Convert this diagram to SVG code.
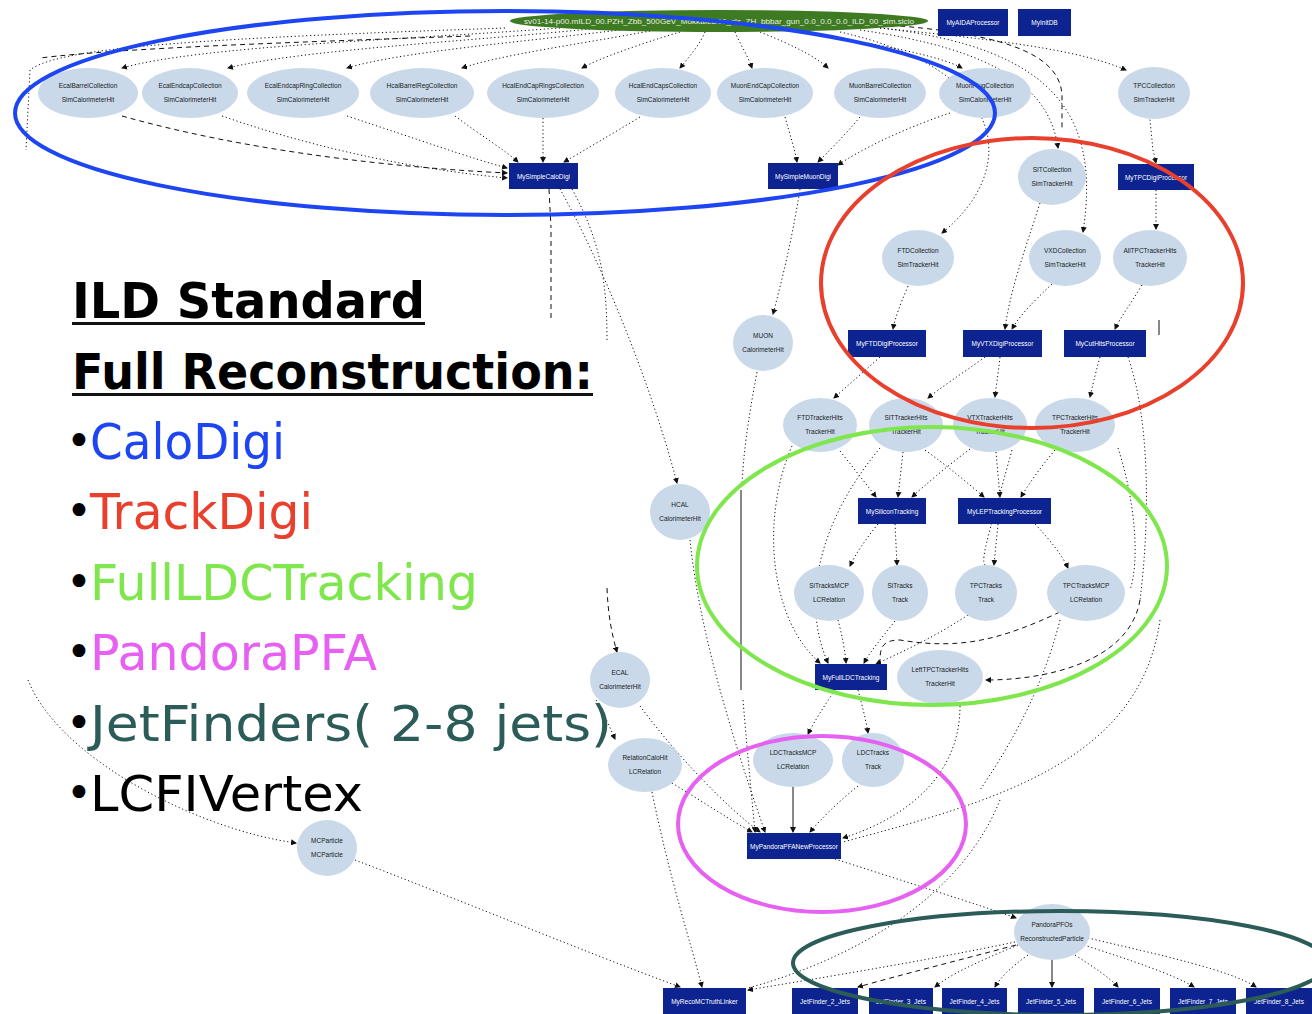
<svg xmlns="http://www.w3.org/2000/svg" width="1312" height="1014" viewBox="0 0 1312 1014">
  <style>
    .col ellipse { fill: #c9d9ea; }
    .col text { font-family: "Liberation Sans", Arial, sans-serif; font-size: 6.5px; fill: #1a1a1a; text-anchor: middle; }
    .proc rect { fill: #0c2390; }
    .proc text { font-family: "Liberation Sans", Arial, sans-serif; font-size: 6.5px; fill: #ffffff; text-anchor: middle; }
    .edges path { fill: none; stroke: #111; stroke-width: 1; stroke-dasharray: 1.2 2.6; }
    .edges path.dash { stroke-dasharray: 5 4; }
    .edges path.solid { stroke-dasharray: none; }
    .ring { fill: none; stroke-width: 4; }
    .big { font-family: "DejaVu Sans", "Liberation Sans", sans-serif; font-size: 50px; }
    .dot { font-family: "DejaVu Sans", "Liberation Sans", sans-serif; font-size: 44px; text-anchor: middle; fill: #000; }
  </style>
  <defs>
    <marker id="ah" markerWidth="6" markerHeight="6" refX="5" refY="3" orient="auto" markerUnits="userSpaceOnUse">
      <path d="M0,0 L6,3 L0,6 z" fill="#111"/>
    </marker>
  </defs>
  <rect width="1312" height="1014" fill="#ffffff"/>

  <!-- connectors -->
  <g class="edges" id="edges">
    <!-- LCIO reader to the simulated hit collections -->
    <path d="M560 28 C400 40 200 46 122 68" marker-end="url(#ah)"/>
    <path d="M590 29 C460 42 300 50 228 68" marker-end="url(#ah)"/>
    <path d="M620 30 C520 42 400 52 347 68" marker-end="url(#ah)"/>
    <path d="M650 31 C580 44 500 55 462 68" marker-end="url(#ah)"/>
    <path d="M680 32 C640 44 600 58 582 68" marker-end="url(#ah)"/>
    <path d="M705 32 C700 44 690 56 680 68" marker-end="url(#ah)"/>
    <path d="M735 32 C740 44 748 56 752 68" marker-end="url(#ah)"/>
    <path d="M760 32 C790 44 815 56 828 68" marker-end="url(#ah)"/>
    <path d="M800 32 C880 44 940 56 962 68" marker-end="url(#ah)"/>
    <path d="M880 28 C1000 40 1080 50 1126 70" marker-end="url(#ah)"/>
    <path d="M860 30 C1000 50 1050 90 1058 148" marker-end="url(#ah)"/>
    <path d="M840 32 C1010 70 1020 170 942 233" marker-end="url(#ah)"/>
    <path d="M880 28 C1060 48 1100 120 1083 232" marker-end="url(#ah)"/>
    <path class="dash" d="M900 26 C1020 36 1060 60 1062 95 L1062 128"/>
    <path d="M505 28 C220 38 60 46 30 70 L26 150"/>
    <path class="dash" d="M470 36 C300 42 120 48 40 58"/>
    <!-- calorimeter hits into the digitisers -->
    <path class="dash" d="M122 116 C250 152 400 168 507 173" marker-end="url(#ah)"/>
    <path d="M222 116 C320 150 420 170 507 178" marker-end="url(#ah)"/>
    <path d="M347 116 C420 140 470 158 507 168" marker-end="url(#ah)"/>
    <path d="M455 116 C480 135 505 150 518 162" marker-end="url(#ah)"/>
    <path d="M543 118 L543 162" marker-end="url(#ah)"/>
    <path d="M640 117 C610 135 585 150 564 162" marker-end="url(#ah)"/>
    <path d="M785 117 C790 135 795 150 797 162" marker-end="url(#ah)"/>
    <path d="M860 117 C845 135 830 150 818 162" marker-end="url(#ah)"/>
    <path d="M950 113 C900 130 860 150 838 165" marker-end="url(#ah)"/>
    <!-- calo digitiser outputs -->
    <path class="dash" d="M549 189 L551 228"/>
    <path class="dash" d="M551 232 L551 320"/>
    <path d="M560 189 C600 260 650 380 677 483" marker-end="url(#ah)"/>
    <path d="M572 189 C600 240 607 280 607 340"/>
    <path class="dash" d="M607 588 C608 615 612 635 617 652" marker-end="url(#ah)"/>
    <path d="M596 700 C605 715 610 728 615 739" marker-end="url(#ah)"/>
    <path d="M800 189 C792 240 782 280 773 314" marker-end="url(#ah)"/>
    <path d="M757 372 C748 420 743 455 742 488"/>
    <path class="solid" d="M741 490 L741 690"/>
    <path d="M743 700 C748 760 752 800 755 832" marker-end="url(#ah)"/>
    <!-- tracker digitisation -->
    <path d="M1156 190 L1156 229" marker-end="url(#ah)"/>
    <path d="M1139 104 L1150 120 L1153 150 L1156 163" marker-end="url(#ah)"/>
    <path d="M908 286 C900 305 895 318 893 329" marker-end="url(#ah)"/>
    <path d="M1040 203 C1025 250 1010 290 1005 329" marker-end="url(#ah)"/>
    <path d="M1052 284 C1035 300 1020 315 1012 329" marker-end="url(#ah)"/>
    <path d="M1142 285 C1130 305 1120 318 1115 329" marker-end="url(#ah)"/>
    <path class="solid" d="M1159 320 L1159 335"/>
    <path d="M1128 357 C1150 420 1150 520 1140 600"/>
    <path d="M880 357 C860 375 845 388 834 398" marker-end="url(#ah)"/>
    <path d="M985 357 C960 375 940 388 928 398" marker-end="url(#ah)"/>
    <path d="M1000 357 C998 375 996 388 995 397" marker-end="url(#ah)"/>
    <path d="M1100 357 C1095 375 1092 388 1090 397" marker-end="url(#ah)"/>
    <!-- hits into the pattern recognition -->
    <path d="M840 451 C855 470 867 485 876 497" marker-end="url(#ah)"/>
    <path d="M903 452 L898 497" marker-end="url(#ah)"/>
    <path d="M970 449 C945 468 925 485 912 497" marker-end="url(#ah)"/>
    <path d="M925 450 C950 468 970 485 984 497" marker-end="url(#ah)"/>
    <path d="M996 452 L1000 497" marker-end="url(#ah)"/>
    <path d="M1055 450 C1040 468 1028 485 1021 497" marker-end="url(#ah)"/>
    <path d="M792 446 C760 520 770 620 820 663" marker-end="url(#ah)"/>
    <path d="M880 448 C820 520 800 600 828 663" marker-end="url(#ah)"/>
    <path d="M1012 450 C990 530 980 560 985 565"/>
    <path d="M1118 448 C1135 500 1140 560 1130 590"/>
    <!-- track fitting -->
    <path d="M878 524 C865 540 855 555 850 566" marker-end="url(#ah)"/>
    <path d="M895 524 L897 565" marker-end="url(#ah)"/>
    <path d="M998 524 L994 565" marker-end="url(#ah)"/>
    <path d="M1035 524 C1050 540 1062 555 1068 568" marker-end="url(#ah)"/>
    <path d="M838 620 C842 635 845 650 846 663" marker-end="url(#ah)"/>
    <path d="M895 621 C880 640 870 652 864 663" marker-end="url(#ah)"/>
    <path d="M968 615 C930 640 895 655 876 664" marker-end="url(#ah)"/>
    <path class="dash" d="M1060 612 C1000 640 960 650 900 640 C880 640 880 650 880 664"/>
    <path class="dash" d="M1140 600 C1130 660 1050 680 986 680" marker-end="url(#ah)"/>
    <path d="M1060 620 C1040 700 1000 760 980 790"/>
    <!-- full tracking outputs and particle flow inputs -->
    <path d="M835 690 C825 705 815 720 808 734" marker-end="url(#ah)"/>
    <path d="M858 690 C862 705 866 720 868 733" marker-end="url(#ah)"/>
    <path class="solid" d="M793 787 L793 832" marker-end="url(#ah)"/>
    <path d="M858 786 C840 800 820 820 810 832" marker-end="url(#ah)"/>
    <path d="M690 540 C700 640 740 760 765 832" marker-end="url(#ah)"/>
    <path d="M640 706 C680 760 730 810 760 832" marker-end="url(#ah)"/>
    <path d="M672 783 C700 800 730 820 752 832" marker-end="url(#ah)"/>
    <path d="M960 706 C960 780 900 820 843 838" marker-end="url(#ah)"/>
    <path d="M1160 620 C1140 760 1000 800 843 842"/>
    <!-- MC truth and particle flow objects -->
    <path d="M28 680 C60 760 200 830 296 843" marker-end="url(#ah)"/>
    <path d="M355 860 C460 900 580 950 680 987" marker-end="url(#ah)"/>
    <path d="M652 792 C670 880 690 940 702 987" marker-end="url(#ah)"/>
    <path d="M835 859 C900 880 980 905 1016 918" marker-end="url(#ah)"/>
    <path d="M1015 942 C930 960 820 978 748 990" marker-end="url(#ah)"/>
    <path d="M1000 800 C960 900 850 960 748 988"/>
    <path class="dash" d="M1016 945 C960 960 900 975 858 987" marker-end="url(#ah)"/>
    <path d="M1018 945 C970 965 950 975 935 987" marker-end="url(#ah)"/>
    <path d="M1028 955 C1010 968 1000 978 995 987" marker-end="url(#ah)"/>
    <path class="solid" d="M1052 960 L1052 987" marker-end="url(#ah)"/>
    <path d="M1075 955 C1095 968 1110 978 1118 987" marker-end="url(#ah)"/>
    <path d="M1084 945 C1130 960 1175 975 1194 987" marker-end="url(#ah)"/>
    <path d="M1088 938 C1160 955 1230 970 1256 987" marker-end="url(#ah)"/>
  </g>

  <!-- event input -->
  <g id="lcio" class="col">
    <ellipse cx="719" cy="21" rx="209" ry="11" style="fill:#3d7a22"/>
    <text x="719" y="23.5" style="fill:#e8eee0" textLength="390" lengthAdjust="spacingAndGlyphs">sv01-14-p00.mILD_00.PZH_Zbb_500GeV_MokkaILD00_cls_ZH_bbbar_gun_0.0_0.0_0.0_ILD_00_sim.slcio</text>
  </g>
  <g id="aida" class="proc"><rect x="938" y="9" width="70" height="27"/><text x="973" y="25">MyAIDAProcessor</text></g>
  <g id="initdb" class="proc"><rect x="1018" y="9" width="53" height="27"/><text x="1044.5" y="25">MyInitDB</text></g>

  <!-- simulated hit collections -->
  <g id="ecalbarrel" class="col"><ellipse cx="88" cy="93" rx="50" ry="25"/><text x="88" y="88">EcalBarrelCollection</text><text x="88" y="102">SimCalorimeterHit</text></g>
  <g id="ecalendcap" class="col"><ellipse cx="190" cy="93" rx="48" ry="25"/><text x="190" y="88">EcalEndcapCollection</text><text x="190" y="102">SimCalorimeterHit</text></g>
  <g id="ecalring" class="col"><ellipse cx="303" cy="93" rx="56" ry="25"/><text x="303" y="88">EcalEndcapRingCollection</text><text x="303" y="102">SimCalorimeterHit</text></g>
  <g id="hcalbarrel" class="col"><ellipse cx="422" cy="93" rx="52" ry="25"/><text x="422" y="88">HcalBarrelRegCollection</text><text x="422" y="102">SimCalorimeterHit</text></g>
  <g id="hcalring" class="col"><ellipse cx="543" cy="93" rx="56" ry="25"/><text x="543" y="88">HcalEndCapRingsCollection</text><text x="543" y="102">SimCalorimeterHit</text></g>
  <g id="hcalendcap" class="col"><ellipse cx="663" cy="93" rx="48" ry="25"/><text x="663" y="88">HcalEndCapsCollection</text><text x="663" y="102">SimCalorimeterHit</text></g>
  <g id="muonendcap" class="col"><ellipse cx="765" cy="93" rx="48" ry="25"/><text x="765" y="88">MuonEndCapCollection</text><text x="765" y="102">SimCalorimeterHit</text></g>
  <g id="muonbarrel" class="col"><ellipse cx="880" cy="93" rx="46" ry="25"/><text x="880" y="88">MuonBarrelCollection</text><text x="880" y="102">SimCalorimeterHit</text></g>
  <g id="muonplug" class="col"><ellipse cx="985" cy="93" rx="46" ry="25"/><text x="985" y="88">MuonPlugCollection</text><text x="985" y="102">SimCalorimeterHit</text></g>
  <g id="tpccol" class="col"><ellipse cx="1154" cy="93" rx="36" ry="26"/><text x="1154" y="88">TPCCollection</text><text x="1154" y="102">SimTrackerHit</text></g>

  <!-- digitisers -->
  <g id="calodigi" class="proc"><rect x="509" y="163" width="69" height="26"/><text x="543.5" y="178.5">MySimpleCaloDigi</text></g>
  <g id="muondigi" class="proc"><rect x="768" y="163" width="70" height="26"/><text x="803" y="178.5">MySimpleMuonDigi</text></g>
  <g id="sitcol" class="col"><ellipse cx="1052" cy="177" rx="34" ry="28"/><text x="1052" y="172">SITCollection</text><text x="1052" y="186">SimTrackerHit</text></g>
  <g id="tpcdigi" class="proc"><rect x="1118" y="164" width="76" height="26"/><text x="1156" y="179.5">MyTPCDigiProcessor</text></g>
  <g id="ftdcol" class="col"><ellipse cx="918" cy="258" rx="36" ry="28"/><text x="918" y="253">FTDCollection</text><text x="918" y="267">SimTrackerHit</text></g>
  <g id="vxdcol" class="col"><ellipse cx="1065" cy="258" rx="36" ry="28"/><text x="1065" y="253">VXDCollection</text><text x="1065" y="267">SimTrackerHit</text></g>
  <g id="alltpc" class="col"><ellipse cx="1150" cy="258" rx="37" ry="28"/><text x="1150" y="253">AllTPCTrackerHits</text><text x="1150" y="267">TrackerHit</text></g>
  <g id="muon" class="col"><ellipse cx="763" cy="343" rx="30" ry="28"/><text x="763" y="338">MUON</text><text x="763" y="352">CalorimeterHit</text></g>
  <g id="ftddigi" class="proc"><rect x="848" y="330" width="78" height="27"/><text x="887" y="346">MyFTDDigiProcessor</text></g>
  <g id="vtxdigi" class="proc"><rect x="963" y="330" width="79" height="27"/><text x="1002.5" y="346">MyVTXDigiProcessor</text></g>
  <g id="cuthits" class="proc"><rect x="1064" y="330" width="82" height="27"/><text x="1105" y="346">MyCutHitsProcessor</text></g>

  <!-- tracker hits -->
  <g id="ftdhits" class="col"><ellipse cx="820" cy="425" rx="37" ry="27"/><text x="820" y="420">FTDTrackerHits</text><text x="820" y="434">TrackerHit</text></g>
  <g id="sithits" class="col"><ellipse cx="906" cy="425" rx="37" ry="27"/><text x="906" y="420">SITTrackerHits</text><text x="906" y="434">TrackerHit</text></g>
  <g id="vtxhits" class="col"><ellipse cx="990" cy="425" rx="37" ry="27"/><text x="990" y="420">VTXTrackerHits</text><text x="990" y="434">TrackerHit</text></g>
  <g id="tpchits" class="col"><ellipse cx="1075" cy="425" rx="40" ry="27"/><text x="1075" y="420">TPCTrackerHits</text><text x="1075" y="434">TrackerHit</text></g>
  <g id="hcal" class="col"><ellipse cx="680" cy="512" rx="30" ry="28"/><text x="680" y="507">HCAL</text><text x="680" y="521">CalorimeterHit</text></g>

  <!-- tracking -->
  <g id="sitracking" class="proc"><rect x="858" y="498" width="68" height="26"/><text x="892" y="513.5">MySiliconTracking</text></g>
  <g id="leptracking" class="proc"><rect x="958" y="498" width="93" height="26"/><text x="1004.5" y="513.5">MyLEPTrackingProcessor</text></g>
  <g id="sitracksmcp" class="col"><ellipse cx="829" cy="593" rx="35" ry="28"/><text x="829" y="588">SiTracksMCP</text><text x="829" y="602">LCRelation</text></g>
  <g id="sitracks" class="col"><ellipse cx="900" cy="593" rx="28" ry="28"/><text x="900" y="588">SiTracks</text><text x="900" y="602">Track</text></g>
  <g id="tpctracks" class="col"><ellipse cx="986" cy="593" rx="31" ry="28"/><text x="986" y="588">TPCTracks</text><text x="986" y="602">Track</text></g>
  <g id="tpctracksmcp" class="col"><ellipse cx="1086" cy="593" rx="39" ry="28"/><text x="1086" y="588">TPCTracksMCP</text><text x="1086" y="602">LCRelation</text></g>
  <g id="fullldc" class="proc"><rect x="815" y="664" width="72" height="26"/><text x="851" y="679.5">MyFullLDCTracking</text></g>
  <g id="lefttpc" class="col"><ellipse cx="940" cy="677" rx="43" ry="27"/><text x="940" y="672">LeftTPCTrackerHits</text><text x="940" y="686">TrackerHit</text></g>

  <!-- particle flow -->
  <g id="ecal" class="col"><ellipse cx="620" cy="680" rx="30" ry="28"/><text x="620" y="675">ECAL</text><text x="620" y="689">CalorimeterHit</text></g>
  <g id="relcalo" class="col"><ellipse cx="645" cy="765" rx="37" ry="27"/><text x="645" y="760">RelationCaloHit</text><text x="645" y="774">LCRelation</text></g>
  <g id="ldctracksmcp" class="col"><ellipse cx="793" cy="760" rx="40" ry="27"/><text x="793" y="755">LDCTracksMCP</text><text x="793" y="769">LCRelation</text></g>
  <g id="ldctracks" class="col"><ellipse cx="873" cy="760" rx="31" ry="27"/><text x="873" y="755">LDCTracks</text><text x="873" y="769">Track</text></g>
  <g id="pandora" class="proc"><rect x="747" y="833" width="94" height="26"/><text x="794" y="848.5">MyPandoraPFANewProcessor</text></g>
  <g id="mcparticle" class="col"><ellipse cx="327" cy="848" rx="30" ry="28"/><text x="327" y="843">MCParticle</text><text x="327" y="857">MCParticle</text></g>
  <g id="pfos" class="col"><ellipse cx="1052" cy="932" rx="38" ry="28"/><text x="1052" y="927">PandoraPFOs</text><text x="1052" y="941">ReconstructedParticle</text></g>

  <!-- truth linking and jet finding -->
  <g id="truthlinker" class="proc"><rect x="663" y="988" width="83" height="26"/><text x="704.5" y="1003.5">MyRecoMCTruthLinker</text></g>
  <g id="jets2" class="proc"><rect x="792" y="988" width="66" height="26"/><text x="825" y="1003.5">JetFinder_2_Jets</text></g>
  <g id="jets3" class="proc"><rect x="869" y="988" width="64" height="26"/><text x="901" y="1003.5">JetFinder_3_Jets</text></g>
  <g id="jets4" class="proc"><rect x="942" y="988" width="65" height="26"/><text x="974.5" y="1003.5">JetFinder_4_Jets</text></g>
  <g id="jets5" class="proc"><rect x="1018" y="988" width="66" height="26"/><text x="1051" y="1003.5">JetFinder_5_Jets</text></g>
  <g id="jets6" class="proc"><rect x="1094" y="988" width="66" height="26"/><text x="1127" y="1003.5">JetFinder_6_Jets</text></g>
  <g id="jets7" class="proc"><rect x="1170" y="988" width="66" height="26"/><text x="1203" y="1003.5">JetFinder_7_Jets</text></g>
  <g id="jets8" class="proc"><rect x="1246" y="988" width="66" height="26"/><text x="1279" y="1003.5">JetFinder_8_Jets</text></g>

  <!-- stage outlines -->
  <ellipse class="ring" cx="505" cy="113" rx="490" ry="102" stroke="#1d45f2"/>
  <ellipse class="ring" cx="1032" cy="283" rx="211" ry="145" stroke="#e8402c"/>
  <ellipse class="ring" cx="932" cy="566" rx="235" ry="139" stroke="#80e64e"/>
  <ellipse class="ring" cx="822" cy="824" rx="144" ry="88" stroke="#e660f2"/>
  <ellipse class="ring" cx="1060" cy="963" rx="267" ry="52" stroke="#2c5c57"/>

  <!-- legend -->
  <g id="legend">
    <text class="big" x="72" y="318" font-weight="bold" textLength="353" lengthAdjust="spacingAndGlyphs">ILD Standard</text>
    <rect x="72" y="322" width="353" height="3" fill="#111"/>
    <text class="big" x="72" y="389" font-weight="bold" textLength="521" lengthAdjust="spacingAndGlyphs">Full Reconstruction:</text>
    <rect x="72" y="393" width="521" height="3" fill="#111"/>
    <text class="dot" x="79" y="456">•</text>
    <text class="big" x="90" y="459" fill="#1d45f2" textLength="195" lengthAdjust="spacingAndGlyphs">CaloDigi</text>
    <text class="dot" x="79" y="526">•</text>
    <text class="big" x="90" y="529" fill="#e8402c" textLength="223" lengthAdjust="spacingAndGlyphs">TrackDigi</text>
    <text class="dot" x="79" y="597">•</text>
    <text class="big" x="90" y="600" fill="#80e64e" textLength="388" lengthAdjust="spacingAndGlyphs">FullLDCTracking</text>
    <text class="dot" x="79" y="667">•</text>
    <text class="big" x="90" y="670" fill="#e660f2" textLength="287" lengthAdjust="spacingAndGlyphs">PandoraPFA</text>
    <text class="dot" x="79" y="738">•</text>
    <text class="big" x="90" y="741" fill="#2c5c57" textLength="522" lengthAdjust="spacingAndGlyphs">JetFinders( 2-8 jets)</text>
    <text class="dot" x="79" y="808">•</text>
    <text class="big" x="90" y="811" fill="#000" textLength="273" lengthAdjust="spacingAndGlyphs">LCFIVertex</text>
  </g>
</svg>
